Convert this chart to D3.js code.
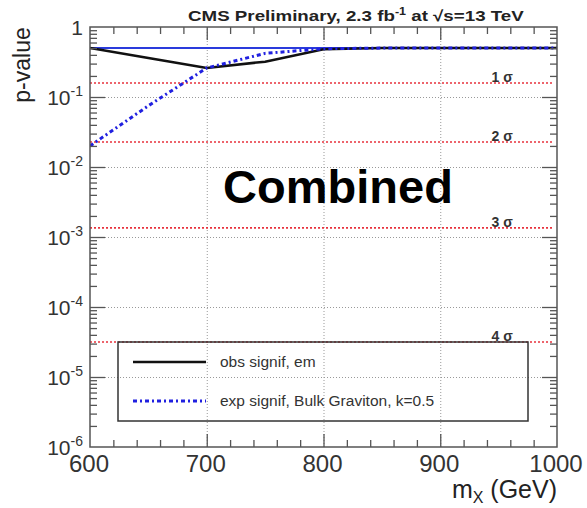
<!DOCTYPE html>
<html lang="en">

<head>
  <meta charset="UTF-8">
  <title>CMS p-value Combined</title>
  <script src="https://d3js.org/d3.v7.min.js"></script>
  <style>
    body {
      margin: 0;
      background: #fff;
      font-family: "Liberation Sans", Arial, sans-serif;
    }

    .grid line {
      stroke: #999;
      stroke-dasharray: 1, 2;
      stroke-width: 1px;
    }

    .grid path {
      display: none;
    }

    .tick-label {
      fill: #333;
    }
  </style>
</head>

<body>
  <div id="chart"></div>

  <script>
    // Data
    const masses = [600, 650, 700, 750, 800, 850, 900, 950, 1000];
    const obsSignif = [0.5, 0.36, 0.26, 0.32, 0.48, 0.5, 0.5, 0.5, 0.5];
    const expSignif = [0.02, 0.075, 0.26, 0.42, 0.49, 0.5, 0.5, 0.5, 0.5];
    const sigmaLabels = ["1 σ", "2 σ", "3 σ", "4 σ"];
    const sigmaValues = [0.1587, 0.02275, 0.00135, 3.17e-5];
    const xTicks = [600, 700, 800, 900, 1000];
    const yExponents = [0, -1, -2, -3, -4, -5, -6];
    const legendLabels = ["obs signif, em", "exp signif, Bulk Graviton, k=0.5"];

    const width = 587;
    const height = 508;
    const margin = { left: 90, right: 30, top: 27, bottom: 61 };
    const plotW = width - margin.left - margin.right;
    const plotH = height - margin.top - margin.bottom;

    const svg = d3.select("#chart")
      .append("svg")
      .attr("width", width)
      .attr("height", height);

    const x = d3.scaleLinear().domain([600, 1000]).range([margin.left, margin.left + plotW]);
    const y = d3.scaleLog().domain([1e-6, 1]).range([margin.top + plotH, margin.top]);

    const x0 = x.range()[0], x1 = x.range()[1];
    const yTop = y.range()[1], yBot = y.range()[0];

    // grid lines
    svg.append("g")
      .attr("class", "grid")
      .attr("transform", `translate(0,${yBot})`)
      .call(d3.axisBottom(x).tickValues([700, 800, 900]).tickSize(-plotH).tickFormat(""));

    svg.append("g")
      .attr("class", "grid")
      .attr("transform", `translate(${x0},0)`)
      .call(d3.axisLeft(y).tickValues([1e-1, 1e-2, 1e-3, 1e-4, 1e-5]).tickSize(-plotW).tickFormat(""));

    svg.append("defs").append("clipPath")
      .attr("id", "clip")
      .append("rect")
      .attr("x", x0).attr("y", yTop)
      .attr("width", plotW).attr("height", plotH);

    const plot = svg.append("g").attr("clip-path", "url(#clip)");

    // sigma lines
    plot.selectAll(".sigma")
      .data(sigmaValues)
      .enter()
      .append("line")
      .attr("x1", x0)
      .attr("x2", x1 - 4)
      .attr("y1", d => y(d))
      .attr("y2", d => y(d))
      .attr("stroke", "#e8323c")
      .attr("stroke-width", 1.6)
      .attr("stroke-dasharray", "2,2");

    svg.selectAll(".sigma-label")
      .data(sigmaLabels)
      .enter()
      .append("text")
      .attr("x", x(944))
      .attr("y", (d, i) => y(sigmaValues[i]) - 1)
      .attr("font-size", 14)
      .attr("font-weight", "bold")
      .attr("fill", "#333")
      .text(d => d);

    // reference line at 0.5
    plot.append("line")
      .attr("x1", x0).attr("x2", x1)
      .attr("y1", y(0.5)).attr("y2", y(0.5))
      .attr("stroke", "#2a3bdc")
      .attr("stroke-width", 2);

    const line = d3.line()
      .x((d, i) => x(masses[i]))
      .y(d => y(d));

    plot.append("path")
      .datum(obsSignif)
      .attr("d", line)
      .attr("fill", "none")
      .attr("stroke", "#111")
      .attr("stroke-width", 2.5);

    plot.append("path")
      .datum(expSignif)
      .attr("d", line)
      .attr("fill", "none")
      .attr("stroke", "#2020e0")
      .attr("stroke-width", 3)
      .attr("stroke-dasharray", "4,3,2,3");

    // frame
    svg.append("rect")
      .attr("x", x0).attr("y", yTop)
      .attr("width", plotW).attr("height", plotH)
      .attr("fill", "none")
      .attr("stroke", "#555")
      .attr("stroke-width", 1.5);

    // x ticks (bottom and top, inward)
    const xMinor = d3.range(620, 1000, 20).filter(v => v % 100 !== 0);
    const axisStyle = g => g.call(s => s.select(".domain").remove())
      .call(s => s.selectAll("line").attr("stroke", "#555").attr("stroke-width", 1.3));

    svg.append("g").attr("transform", `translate(0,${yBot})`)
      .call(d3.axisBottom(x).tickValues(xTicks.slice(1, -1)).tickSize(-13).tickFormat(""))
      .call(axisStyle);
    svg.append("g").attr("transform", `translate(0,${yBot})`)
      .call(d3.axisBottom(x).tickValues(xMinor).tickSize(-7).tickFormat(""))
      .call(axisStyle);
    svg.append("g").attr("transform", `translate(0,${yTop})`)
      .call(d3.axisTop(x).tickValues(xTicks.slice(1, -1)).tickSize(-13).tickFormat(""))
      .call(axisStyle);
    svg.append("g").attr("transform", `translate(0,${yTop})`)
      .call(d3.axisTop(x).tickValues(xMinor).tickSize(-7).tickFormat(""))
      .call(axisStyle);

    // y ticks (left and right, inward)
    const yMajor = yExponents.slice(1, -1).map(e => Math.pow(10, e));
    const yMinor = [];
    yExponents.slice(1).forEach(e => {
      for (let k = 2; k <= 9; k++) yMinor.push(k * Math.pow(10, e));
    });

    svg.append("g").attr("transform", `translate(${x0},0)`)
      .call(d3.axisLeft(y).tickValues(yMajor).tickSize(-15).tickFormat(""))
      .call(axisStyle);
    svg.append("g").attr("transform", `translate(${x0},0)`)
      .call(d3.axisLeft(y).tickValues(yMinor).tickSize(-7).tickFormat(""))
      .call(axisStyle);
    svg.append("g").attr("transform", `translate(${x1},0)`)
      .call(d3.axisRight(y).tickValues(yMajor).tickSize(-15).tickFormat(""))
      .call(axisStyle);
    svg.append("g").attr("transform", `translate(${x1},0)`)
      .call(d3.axisRight(y).tickValues(yMinor).tickSize(-7).tickFormat(""))
      .call(axisStyle);

    // x tick labels
    svg.selectAll(".xlab")
      .data(xTicks)
      .enter()
      .append("text")
      .attr("class", "tick-label")
      .attr("x", d => x(d) - 1)
      .attr("y", yBot + 25)
      .attr("text-anchor", "middle")
      .attr("font-size", 24)
      .text(d => d);

    // y tick labels
    yExponents.forEach(e => {
      const t = svg.append("text")
        .attr("class", "tick-label")
        .attr("x", 83)
        .attr("y", y(Math.pow(10, e)) + 8)
        .attr("text-anchor", "end")
        .attr("font-size", 21);
      if (e === 0) {
        t.text("1");
      } else {
        t.append("tspan").text("10");
        t.append("tspan").attr("dy", -9).attr("font-size", 14).text(e);
      }
    });

    // axis titles
    svg.append("text")
      .attr("transform", `translate(30,${yTop + 38}) rotate(-90)`)
      .attr("text-anchor", "middle")
      .attr("font-size", 23)
      .attr("fill", "#222")
      .text("p-value");

    const xt = svg.append("text")
      .attr("x", x1)
      .attr("y", 498)
      .attr("text-anchor", "end")
      .attr("font-size", 25)
      .attr("fill", "#222");
    xt.append("tspan").text("m");
    xt.append("tspan").attr("dy", 5).attr("font-size", 16).text("X");
    xt.append("tspan").attr("dy", -5).text(" (GeV)");

    // title (the reference text is wider than it is tall)
    const title = svg.append("text")
      .attr("transform", "translate(188,21) scale(1.25,1)")
      .attr("font-size", 15)
      .attr("font-weight", "bold")
      .attr("fill", "#222");
    title.append("tspan").text("CMS Preliminary, 2.3 fb");
    title.append("tspan").attr("dy", -6).attr("font-size", 10).text("-1");
    title.append("tspan").attr("dy", 6).text(" at  √s=13 TeV");

    // big label
    svg.append("text")
      .attr("x", 338)
      .attr("y", 203)
      .attr("text-anchor", "middle")
      .attr("font-size", 47)
      .attr("font-weight", "bold")
      .attr("fill", "#000")
      .text("Combined");

    // legend
    const legend = svg.append("g");
    legend.append("rect")
      .attr("x", 118).attr("y", 342)
      .attr("width", 410).attr("height", 79)
      .attr("fill", "none")
      .attr("stroke", "#333")
      .attr("stroke-width", 1.5);

    const legendStyles = [
      { stroke: "#111", dash: null, w: 2.5 },
      { stroke: "#2020e0", dash: "4,3,2,3", w: 3 }
    ];

    legendLabels.forEach((lab, i) => {
      const ly = 362 + i * 39;
      legend.append("line")
        .attr("x1", 133).attr("x2", 206)
        .attr("y1", ly).attr("y2", ly)
        .attr("stroke", legendStyles[i].stroke)
        .attr("stroke-width", legendStyles[i].w)
        .attr("stroke-dasharray", legendStyles[i].dash);
      legend.append("text")
        .attr("x", 220)
        .attr("y", ly + 5)
        .attr("font-size", 15.5)
        .attr("fill", "#333")
        .text(lab);
    });
  </script>
</body>

</html>
